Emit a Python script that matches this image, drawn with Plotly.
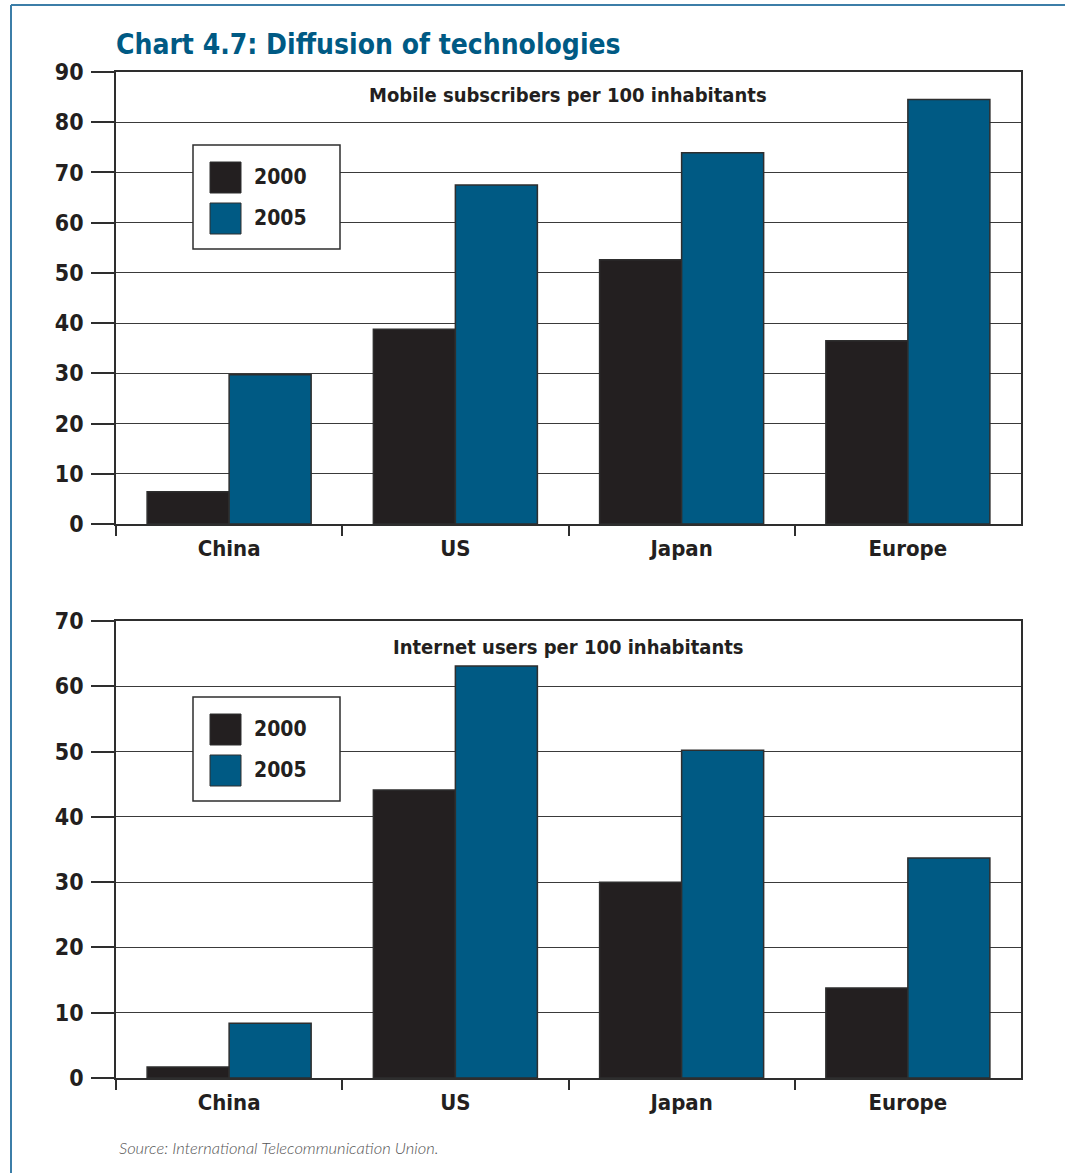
import plotly.graph_objects as go

categories = ["China", "US", "Japan", "Europe"]
years = ["2000", "2005"]
mobile_2000 = [6.4, 38.8, 52.6, 36.5]
mobile_2005 = [29.7, 67.5, 73.9, 84.5]
internet_2000 = [1.7, 44.1, 30.0, 13.8]
internet_2005 = [8.4, 63.1, 50.2, 33.7]
mobile_ticks = list(range(0, 91, 10))
internet_ticks = list(range(0, 71, 10))

W, H = 1065, 1173
C2000 = "#231F20"
C2005 = "#005A84"
LINE = "#2e2e2e"
FONT = "Liberation Sans Narrow, DejaVu Sans Condensed, Roboto, sans-serif"


def px(x):
    return x / W


def py(y):
    return 1 - y / H


fig = go.Figure()

for name, vals, col in [(years[0], mobile_2000, C2000), (years[1], mobile_2005, C2005)]:
    fig.add_trace(go.Bar(x=categories, y=vals, name=name, marker=dict(color=col, line=dict(color=LINE, width=1.5)),
                         xaxis="x", yaxis="y", showlegend=False))
for name, vals, col in [(years[0], internet_2000, C2000), (years[1], internet_2005, C2005)]:
    fig.add_trace(go.Bar(x=categories, y=vals, name=name, marker=dict(color=col, line=dict(color=LINE, width=1.5)),
                         xaxis="x2", yaxis="y2", showlegend=False))

xcommon = dict(type="category", tickson="boundaries", ticks="outside", ticklen=10, tickwidth=1.5,
               tickcolor=LINE, showline=True, linecolor=LINE, linewidth=1.5, mirror=True,
               showgrid=False, automargin=False, ticklabelstandoff=4,
               tickfont=dict(family=FONT, size=22, color=C2000, weight="bold"))
ycommon = dict(ticks="outside", ticklen=23, tickwidth=1.5, tickcolor=LINE, showline=True,
               linecolor=LINE, linewidth=1.5, mirror=True, showgrid=True, gridcolor="#3a3a3a",
               gridwidth=1.2, zeroline=False, automargin=False, ticklabelstandoff=3,
               tickfont=dict(family=FONT, size=23, color=C2000, weight="bold"))

fig.update_layout(
    width=W, height=H, margin=dict(l=0, r=0, t=0, b=0, autoexpand=False),
    paper_bgcolor="white", plot_bgcolor="white", showlegend=False,
    barmode="group", bargap=0.275, bargroupgap=0,
    xaxis=dict(domain=[px(116), px(1021)], anchor="y", **xcommon),
    yaxis=dict(domain=[py(524), py(72)], anchor="x", range=[0, 90], tickvals=mobile_ticks, **ycommon),
    xaxis2=dict(domain=[px(116), px(1021)], anchor="y2", **xcommon),
    yaxis2=dict(domain=[py(1078), py(621)], anchor="x2", range=[0, 70], tickvals=internet_ticks, **ycommon),
)

shapes = []
annotations = []
# outer blue frame
shapes.append(dict(type="line", xref="paper", yref="paper", x0=px(11), x1=px(11), y0=py(5), y1=0,
                   line=dict(color="#3c7ea8", width=2)))
shapes.append(dict(type="line", xref="paper", yref="paper", x0=px(11), x1=1, y0=py(5), y1=py(5),
                   line=dict(color="#3c7ea8", width=2)))

# manual legends
for off in (0, 552):
    shapes.append(dict(type="rect", xref="paper", yref="paper", x0=px(193), x1=px(340),
                       y0=py(145 + off), y1=py(249 + off), fillcolor="white",
                       line=dict(color=LINE, width=1.5), layer="above"))
    for i, (lab, col) in enumerate([(years[0], C2000), (years[1], C2005)]):
        top = 162 + off + i * 41
        shapes.append(dict(type="rect", xref="paper", yref="paper", x0=px(210), x1=px(241),
                           y0=py(top), y1=py(top + 31), fillcolor=col,
                           line=dict(color=LINE, width=1), layer="above"))
        annotations.append(dict(text=lab, xref="paper", yref="paper", x=px(252), y=py(top + 15),
                                xanchor="left", yanchor="middle", showarrow=False,
                                font=dict(family=FONT, size=21, color=C2000, weight="bold")))

annotations.append(dict(text="Chart 4.7: Diffusion of technologies", xref="paper", yref="paper",
                        x=px(114), y=py(45), xanchor="left", yanchor="middle", showarrow=False,
                        font=dict(family=FONT, size=28, color=C2005, weight="bold")))
annotations.append(dict(text="Mobile subscribers per 100 inhabitants", xref="paper", yref="paper",
                        x=px(568), y=py(95), xanchor="center", yanchor="middle", showarrow=False,
                        font=dict(family=FONT, size=20, color=C2000, weight="bold")))
annotations.append(dict(text="Internet users per 100 inhabitants", xref="paper", yref="paper",
                        x=px(568), y=py(647), xanchor="center", yanchor="middle", showarrow=False,
                        font=dict(family=FONT, size=20, color=C2000, weight="bold")))
annotations.append(dict(text="Source: International Telecommunication Union.", xref="paper", yref="paper",
                        x=px(117), y=py(1148), xanchor="left", yanchor="middle", showarrow=False,
                        font=dict(family="Lato, Open Sans, sans-serif", size=16.5, color="#555555",
                                  style="italic", weight=300)))

fig.update_layout(shapes=shapes, annotations=annotations)
fig.write_html("out.html")
